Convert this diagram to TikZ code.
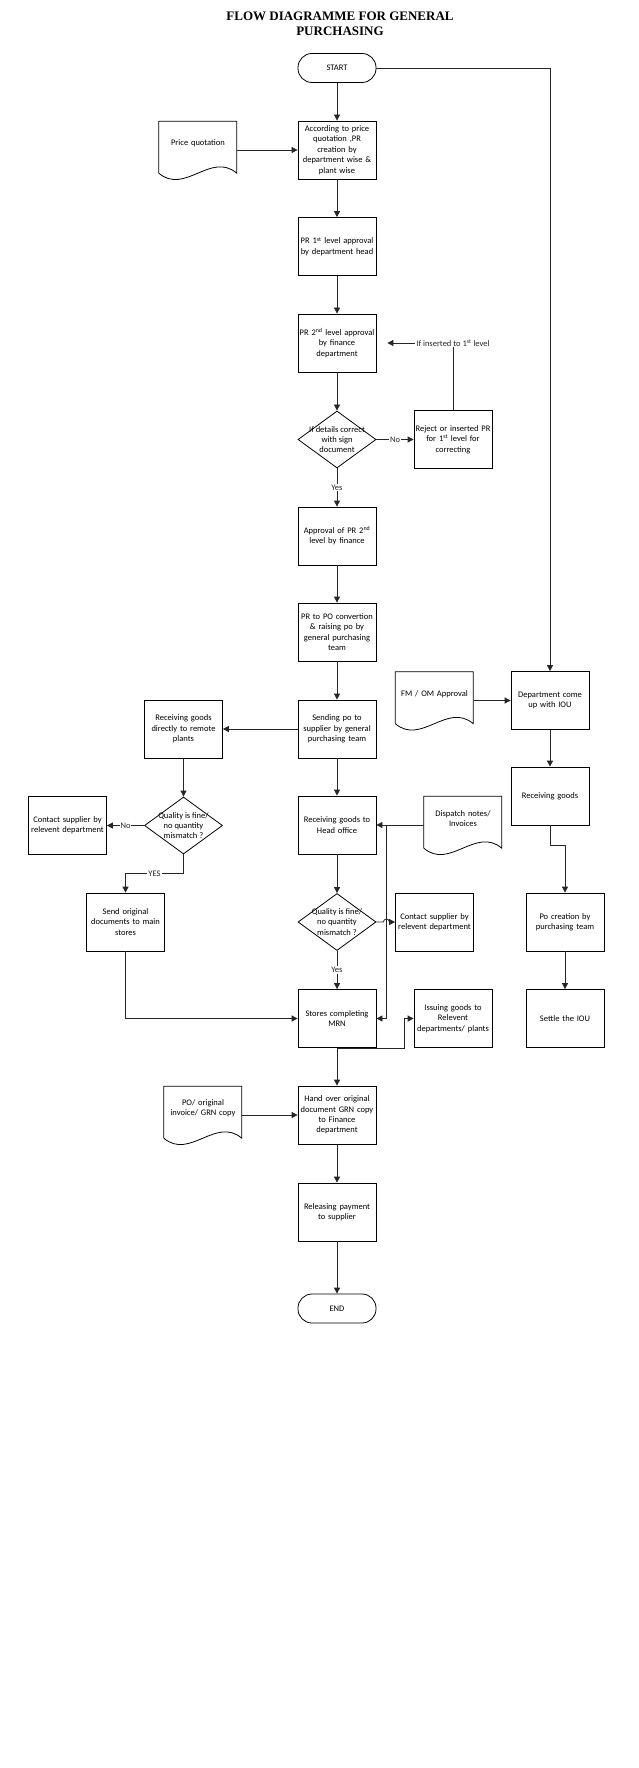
\documentclass[tikz,border=0pt]{standalone}
\usepackage{fontspec}
\setmainfont{Carlito}
\newfontfamily\titlefont{Liberation Serif}
\usetikzlibrary{shapes.geometric,arrows.meta,calc}

\newcommand{\docshape}[1]{%
  \draw [line width=0.8pt, shift={(#1.south west)}] (0, 7) -- (0, -45) -- (78, -45) -- (78, 7)
    .. controls (52, -15) and (26, 29) .. (0, 7);}

\begin{document}
\begin{tikzpicture}[x=1pt, y=-1pt,
  every node/.style={font={\fontsize{8.5}{10.4}\selectfont}},
  box/.style={draw, line width=0.8pt, rectangle, minimum width=78pt, minimum height=58pt, text width=76pt, inner sep=1pt, align=center},
  term/.style={draw, line width=0.8pt, rectangle, rounded corners=14pt, minimum width=78pt, minimum height=29pt},
  decision/.style={draw, line width=0.8pt, diamond, minimum width=78pt, minimum height=57pt, inner sep=0pt},
  doc/.style={minimum width=78pt, minimum height=45pt, text width=76pt, inner sep=1pt, align=center},
  txt/.style={align=center},
  lbl/.style={fill=white, inner sep=1pt},
  conn/.style={line width=0.8pt, black!85},
  >={Triangle[length=6pt, width=6pt]}]
\fill [white] (0, 0) rectangle (638, 1768);
\useasboundingbox (0, 0) rectangle (638, 1768);

\node [font={\titlefont\bfseries\fontsize{13}{15.5}\selectfont}, align=center] (title) at (340, 24) {FLOW DIAGRAMME FOR GENERAL\\PURCHASING};

\node [term] (start) at (337, 68) {START};
\node [box] (b1) at (337, 150) {According to price\\quotation ,PR\\creation by\\department wise \&\\plant wise};
\node [doc] (pq) at (198, 143.5) {Price quotation};
\docshape{pq}
\node [box] (b2) at (337, 246.5) {PR 1\textsuperscript{st} level approval\\by department head};
\node [box] (b3) at (337, 343) {PR 2\textsuperscript{nd} level approval\\by finance\\department};
\node [decision] (d1) at (337, 439.5) {};
\node [txt] (d1t) at (d1) {If details correct\\with sign\\document};
\node [box] (rej) at (453, 439.5) {Reject or inserted PR\\for 1\textsuperscript{st} level for\\correcting};
\node [box] (b4) at (337, 536) {Approval of PR 2\textsuperscript{nd}\\level by finance};
\node [box] (b5) at (337, 632) {PR to PO convertion\\\& raising po by\\general purchasing\\team};
\node [box] (b6) at (337, 729) {Sending po to\\supplier by general\\purchasing team};

\node [doc] (fm) at (434.5, 694) {FM / OM Approval};
\docshape{fm}
\node [box] (iou) at (550, 700.5) {Department come\\up with IOU};
\node [box] (rg) at (550, 796) {Receiving goods};
\node [box] (pcr) at (565, 922) {Po creation by\\purchasing team};
\node [box] (settle) at (565, 1018.5) {Settle the IOU};

\node [box] (rgd) at (183.5, 729) {Receiving goods\\directly to remote\\plants};
\node [decision] (d2) at (183.5, 825.5) {};
\node [txt] (d2t) at (d2) {Quality is fine/\\no quantity\\mismatch ?};
\node [box] (csl) at (67.5, 825.5) {Contact supplier by\\relevent department};
\node [box] (sod) at (125.5, 922) {Send original\\documents to main\\stores};

\node [box] (rho) at (337, 825) {Receiving goods to\\Head office};
\node [doc] (dn) at (463, 818.5) {Dispatch notes/\\Invoices};
\docshape{dn}
\node [decision] (d3) at (337, 922) {};
\node [txt] (d3t) at (d3) {Quality is fine/\\no quantity\\mismatch ?};
\node [box] (csr) at (434.5, 922) {Contact supplier by\\relevent department};
\node [box] (mrn) at (337, 1018.5) {Stores completing\\MRN};
\node [box] (iss) at (453, 1018.5) {Issuing goods to\\Relevent\\departments/ plants};

\node [box] (ho) at (337, 1115) {Hand over original\\document GRN copy\\to Finance\\department};
\node [doc] (pod) at (203, 1108.5) {PO/ original\\invoice/ GRN copy};
\docshape{pod}
\node [box] (rp) at (337, 1212) {Releasing payment\\to supplier};
\node [term] (stop) at (337, 1308.5) {END};

\draw [conn, ->] (start) -- (b1);
\draw [conn, ->] (pq.east |- b1.west) -- (b1.west);
\draw [conn, ->] (b1) -- (b2);
\draw [conn, ->] (b2) -- (b3);
\draw [conn, ->] (b3) -- (d1);
\draw [conn, ->] (d1) -- node [lbl] {No} (rej);
\draw [conn, ->] (rej.north) |- node [lbl, pos=0.5] {If inserted to 1\textsuperscript{st} level} ([xshift=11pt]b3.east);
\draw [conn, ->] (d1) -- node [lbl] {Yes} (b4);
\draw [conn, ->] (b4) -- (b5);
\draw [conn, ->] (b5) -- (b6);

\draw [conn, ->] (start.east) -| (iou.north);
\draw [conn, ->] (fm.east |- iou.west) -- (iou.west);
\draw [conn, ->] (iou) -- (rg);
\draw [conn, ->] (rg.south) -- ++(0, 20) -| (pcr.north);
\draw [conn, ->] (pcr) -- (settle);

\draw [conn, ->] (b6) -- (rgd);
\draw [conn, ->] (rgd) -- (d2);
\draw [conn, ->] (d2) -- node [lbl] {No} (csl);
\draw [conn, ->] (d2.south) -- ++(0, 19) -| node [lbl, pos=0.25] {YES} (sod.north);
\draw [conn, ->] (sod.south) |- (mrn.west);

\coordinate (dnj) at ($(rho.east)+(10, 0)$);
\draw [conn, ->] (b6) -- (rho);
\draw [conn, ->] (dn.west |- rho.east) -- (rho.east);
\draw [conn, ->] (rho) -- (d3);
\draw [conn, ->] (d3.east) -- ($(dnj |- d3.east)+(-3, 0)$) arc [start angle=180, end angle=0, radius=3pt] -- (csr.west);
\draw [conn, ->] (dnj) |- (mrn.east);
\draw [conn, ->] (d3) -- node [lbl] {Yes} (mrn);
\draw [conn, ->] (mrn.south) -| ([xshift=-9pt]iss.west) -- (iss.west);

\draw [conn, ->] (mrn) -- (ho);
\draw [conn, ->] (pod.east |- ho.west) -- (ho.west);
\draw [conn, ->] (ho) -- (rp);
\draw [conn, ->] (rp) -- (stop);
\end{tikzpicture}
\end{document}
